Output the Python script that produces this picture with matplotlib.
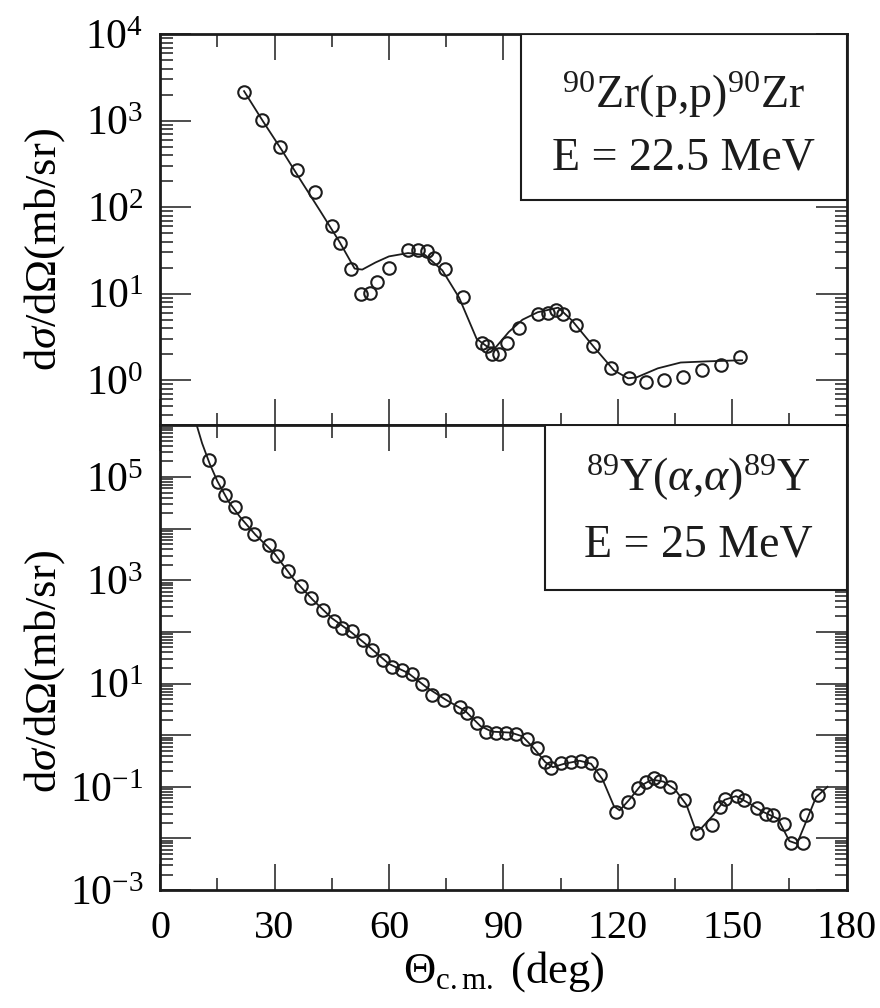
import matplotlib
matplotlib.use('Agg')
import matplotlib.pyplot as plt
from matplotlib.ticker import LogLocator, FixedLocator, FuncFormatter, NullFormatter
import numpy as np

plt.rcParams['font.family'] = ['Liberation Serif', 'DejaVu Serif']
plt.rcParams['mathtext.fontset'] = 'custom'
plt.rcParams['mathtext.rm'] = 'Liberation Serif'
plt.rcParams['mathtext.it'] = 'Liberation Serif:italic'
plt.rcParams['mathtext.bf'] = 'Liberation Serif:bold'

INK = '#1c1c1c'

# 90Zr(p,p) at 22.5 MeV - data points
zr_angle = [22.1, 26.8, 31.3, 35.9, 40.6, 45.1, 47.1, 50.0, 52.6, 54.9, 56.8, 59.9,
            65.1, 67.7, 70.0, 71.9, 74.7, 79.4, 84.4, 85.7, 87.0, 88.8, 90.9, 94.0,
            99.0, 101.8, 103.9, 105.7, 109.0, 113.5, 118.2, 123.0, 127.3, 132.0,
            137.0, 142.0, 147.0, 152.0]
zr_xs = [2150, 1020, 500, 270, 148, 60, 39, 19.5, 10, 10.3, 13.8, 20,
         32, 32, 31, 26, 19.5, 9.1, 2.7, 2.5, 2.0, 2.0, 2.7, 4.0,
         5.9, 6.0, 6.4, 5.9, 4.3, 2.5, 1.4, 1.05, 0.95, 1.0,
         1.1, 1.3, 1.5, 1.85]
# optical model fit
zr_fit_angle = [22, 27, 32, 37, 42, 47, 51, 53, 56.5, 60, 65, 69.5, 74, 78.4, 83,
                86, 88, 91.4, 95, 99, 104.4, 108, 113.8, 119, 122.7, 125, 130.5,
                136.5, 143.5, 152.6]
zr_fit_xs = [2200, 980, 450, 200, 90, 40, 19.5, 19, 23, 27, 29.5, 28, 18.6, 9, 3.0,
             2.4, 2.4, 3.6, 5.0, 6.1, 6.9, 4.9, 2.4, 1.3, 1.05, 1.08, 1.37,
             1.6, 1.65, 1.7]

# 89Y(alpha,alpha) at 25 MeV - data points
y_angle = [12.7, 15.1, 17.1, 19.7, 22.3, 24.7, 28.6, 30.6, 33.5, 36.9, 39.5, 42.6,
           45.5, 47.8, 50.4, 53.2, 55.6, 58.4, 60.8, 63.4, 66.0, 68.6, 71.2, 74.5,
           78.7, 80.5, 83.1, 85.5, 88.0, 90.6, 93.2, 96.1, 98.7, 101.0, 102.6,
           105.2, 107.8, 110.4, 113.0, 115.3, 119.5, 122.6, 125.2, 127.3, 129.6,
           131.2, 133.8, 137.4, 140.8, 144.7, 146.8, 148.0, 151.2, 153.2, 156.4,
           159.0, 160.8, 163.6, 165.5, 168.6, 169.4, 172.5]
y_xs = [2.1e5, 7.9e4, 4.5e4, 2.6e4, 1.3e4, 7.8e3, 4.8e3, 2.9e3, 1.5e3, 760, 450, 270,
        160, 120, 105, 71, 45, 29, 21, 18, 15, 10, 6.0, 4.8,
        3.5, 2.7, 1.7, 1.15, 1.1, 1.1, 1.05, 0.83, 0.56, 0.30, 0.23,
        0.29, 0.30, 0.32, 0.29, 0.17, 0.032, 0.050, 0.093, 0.123, 0.145,
        0.129, 0.098, 0.055, 0.013, 0.018, 0.040, 0.059, 0.065, 0.055, 0.038,
        0.030, 0.028, 0.019, 0.0083, 0.0083, 0.028, 0.068]
y_fit_angle = [9.6, 11, 13, 15, 18, 21, 25, 30, 35, 40, 45, 50, 55, 60, 65, 70, 75,
               80, 84, 87, 92, 95, 98, 101, 103, 106, 110, 113, 116, 119, 120.5,
               123, 126, 129, 132, 135, 138, 140.5, 142, 145, 148, 151, 154, 158,
               162, 165, 167, 169, 172, 175]
y_fit_xs = [1e6, 4.5e5, 1.8e5, 8.3e4, 3.3e4, 1.66e4, 7.6e3, 3.3e3, 1.05e3, 420, 185,
            100, 50, 24, 16, 8.3, 4.8, 2.95, 1.5, 1.17, 1.12, 0.95, 0.56, 0.30,
            0.24, 0.28, 0.32, 0.28, 0.14, 0.042, 0.035, 0.056, 0.105, 0.138,
            0.126, 0.089, 0.045, 0.014, 0.016, 0.028, 0.056, 0.066, 0.050, 0.033,
            0.024, 0.0089, 0.0079, 0.018, 0.063, 0.1]

x_ticks = [0, 30, 60, 90, 120, 150, 180]
x_minor = [15, 45, 75, 105, 135, 165]

fig = plt.figure(figsize=(8.8, 10.08), dpi=100)
ax1 = fig.add_axes([0.182, 0.578, 0.780, 0.388])
ax2 = fig.add_axes([0.182, 0.117, 0.780, 0.461])


def exp_label(odd_only):
    def f(v, pos):
        e = int(round(np.log10(v)))
        if odd_only and e % 2 == 0:
            return ''
        return r'$10^{%d}$' % e
    return f


for ax in (ax1, ax2):
    ax.set_yscale('log')
    ax.set_xlim(0, 180)
    ax.xaxis.set_major_locator(FixedLocator(x_ticks))
    ax.xaxis.set_minor_locator(FixedLocator(x_minor))
    ax.yaxis.set_major_locator(LogLocator(base=10, numticks=30))
    ax.yaxis.set_minor_locator(LogLocator(base=10, subs=np.arange(2, 10), numticks=30))
    ax.yaxis.set_minor_formatter(NullFormatter())
    ax.tick_params(which='both', direction='in', top=True, right=True, color=INK, width=1.1)
    ax.tick_params(axis='x', which='major', length=19)
    ax.tick_params(axis='x', which='minor', length=9)
    ax.tick_params(axis='y', which='major', length=22, labelsize=30, pad=12)
    ax.tick_params(axis='y', which='minor', length=9)
    for s in ax.spines.values():
        s.set_linewidth(2.0)
        s.set_color(INK)

# top panel
ax1.set_ylim(0.3, 1e4)
ax1.yaxis.set_major_formatter(FuncFormatter(exp_label(False)))
ax1.tick_params(axis='x', labelbottom=False)
ax1.plot(zr_fit_angle, zr_fit_xs, '-', color=INK, lw=1.3)
ax1.plot(zr_angle, zr_xs, 'o', mfc='none', mec=INK, ms=9, mew=1.5)
ax1.set_ylabel(r'd$\sigma$/d$\Omega$(mb/sr)', fontsize=32)
ax1.yaxis.set_label_coords(-0.135, 0.45)
ax1.add_patch(plt.Rectangle((0.525, 0.575), 0.475, 0.425, transform=ax1.transAxes,
                            fill=True, fc='white', ec=INK, lw=1.5, zorder=5))
ax1.text(0.763, 0.845, r'$^{90}$Zr(p,p)$^{90}$Zr', transform=ax1.transAxes,
         ha='center', va='center', fontsize=33, color=INK, zorder=6)
ax1.text(0.763, 0.683, 'E = 22.5 MeV', transform=ax1.transAxes,
         ha='center', va='center', fontsize=33, color=INK, zorder=6)

# bottom panel
ax2.set_ylim(1e-3, 1e6)
ax2.yaxis.set_major_formatter(FuncFormatter(exp_label(True)))
ax2.plot(y_fit_angle, y_fit_xs, '-', color=INK, lw=1.3)
ax2.plot(y_angle, y_xs, 'o', mfc='none', mec=INK, ms=9, mew=1.5)
ax2.tick_params(axis='x', labelsize=29, pad=14)
ax2.set_xlabel(r'$\Theta_{\mathrm{c{.}m{.}}}$ (deg)', fontsize=32, labelpad=2)
ax2.set_ylabel(r'd$\sigma$/d$\Omega$(mb/sr)', fontsize=32)
ax2.yaxis.set_label_coords(-0.135, 0.47)
ax2.add_patch(plt.Rectangle((0.56, 0.645), 0.44, 0.355, transform=ax2.transAxes,
                            fill=True, fc='white', ec=INK, lw=1.5, zorder=5))
ax2.text(0.784, 0.886, r'$^{89}$Y($\alpha$,$\alpha$)$^{89}$Y', transform=ax2.transAxes,
         ha='center', va='center', fontsize=33, color=INK, zorder=6)
ax2.text(0.784, 0.742, 'E = 25 MeV', transform=ax2.transAxes,
         ha='center', va='center', fontsize=33, color=INK, zorder=6)

fig.savefig('out.png', dpi=100)
